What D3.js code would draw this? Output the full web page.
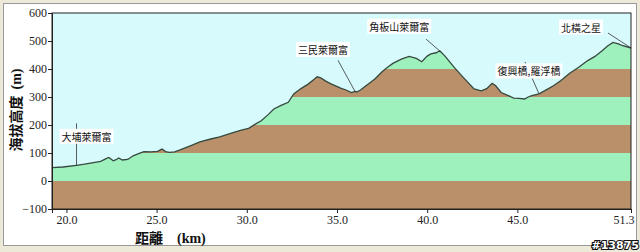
<!DOCTYPE html>
<html>
<head>
<meta charset="utf-8">
<script src="https://cdn.jsdelivr.net/npm/d3@7"></script>
<style>
    body { margin: 0; background: #ece9d8; }
    svg { display: block; }
</style>
</head>
<body>
<div id="chart"></div>
<script>
    // profile: distance (km) and elevation (m)
    var distKm = [19.2, 19.8, 20.56, 21.0, 21.5, 21.9, 22.2, 22.35, 22.6, 22.75, 22.9, 23.1, 23.4, 23.7, 24.0, 24.3,
        24.7, 25.05, 25.3, 25.5, 25.7, 26.0, 26.3, 26.9, 27.4, 28.0, 28.5, 29.1, 29.7, 30.1, 30.5, 30.8, 31.2, 31.5,
        31.9, 32.3, 32.6, 33.0, 33.4, 33.7, 33.9, 34.1, 34.4, 34.7, 35.2, 35.5, 35.8, 36.0, 36.1, 36.3, 36.7, 37.1,
        37.5, 37.8, 38.1, 38.4, 38.6, 39.0, 39.4, 39.7, 40.0, 40.2, 40.5, 40.7, 41.0, 41.5, 42.0, 42.6, 43.0, 43.3,
        43.6, 43.8, 44.1, 44.5, 44.8, 45.1, 45.4, 45.6, 45.8, 46.2, 46.7, 47.0, 47.4, 47.9, 48.4, 48.9, 49.3, 49.7,
        50.0, 50.3, 50.6, 50.8, 51.3];
    var elevM = [48, 50, 56, 60, 66, 70, 80, 84, 72, 76, 82, 75, 77, 90, 98, 105,
        104, 106, 114, 105, 102, 104, 111, 126, 140, 150, 158, 170, 182, 188, 204, 215, 238, 257,
        270, 281, 311, 330, 346, 362, 372, 368, 356, 346, 332, 325, 316, 320, 318, 325, 345, 364,
        390, 406, 420, 430, 436, 445, 438, 426, 446, 454, 458, 465, 445, 406, 370, 329, 322, 330,
        349, 340, 316, 305, 296, 295, 293, 300, 305, 311, 329, 340, 358, 385, 406, 430, 445, 465,
        482, 495, 490, 484, 475];

    // stops along the route
    var stopNames = ['大埔萊爾富', '三民萊爾富', '角板山萊爾富', '復興橋,羅浮橋', '北橫之星'];
    var stopKm = [20.56, 36.0, 40.78, 46.2, 51.3];

    var xTicks = [20, 25, 30, 35, 40, 45, 51.3];
    var yTicks = [-100, 0, 100, 200, 300, 400, 500, 600];

    // label placement (pixel offsets from the stop point)
    var labelLayout = [
        {dx: 10, dy: -28, lx: 0, ly: -42},
        {dx: -32, dy: -41, lx: -17, ly: -31},
        {dx: -42, dy: -25, lx: -15, ly: -13},
        {dx: -10, dy: -22, lx: -14, ly: -32},
        {dx: -50, dy: -20, lx: -23, ly: -15}
    ];

    var width = 640;
    var height = 252;
    var margin = {top: 13, right: 9, bottom: 43, left: 52};
    var plotW = width - margin.left - margin.right;
    var plotH = height - margin.top - margin.bottom;

    var svg = d3.select('#chart').append('svg')
        .attr('width', width)
        .attr('height', height);

    // window-like panel
    svg.append('rect')
        .attr('x', 3.5).attr('y', 3.5)
        .attr('width', 633).attr('height', 242)
        .attr('fill', '#ffffff')
        .attr('stroke', '#9a9a9a');

    var g = svg.append('g')
        .attr('transform', 'translate(' + margin.left + ',' + margin.top + ')');

    var x = d3.scaleLinear().domain([19.2, 51.3]).range([0, plotW]);
    var y = d3.scaleLinear().domain([-100, 600]).range([plotH, 0]);

    var profile = distKm.map(function (d, i) {
        return {km: d, m: elevM[i]};
    });

    g.append('rect')
        .attr('width', plotW).attr('height', plotH)
        .attr('fill', '#d7fafc');

    var area = d3.area()
        .x(function (d) { return x(d.km); })
        .y0(plotH)
        .y1(function (d) { return y(d.m); });

    g.append('clipPath').attr('id', 'ground')
        .append('path').attr('d', area(profile));

    // alternating 100 m bands under the profile
    var bands = d3.range(-100, 600, 100);
    g.append('g').attr('clip-path', 'url(#ground)')
        .selectAll('rect')
        .data(bands)
        .enter().append('rect')
        .attr('x', 0)
        .attr('width', plotW)
        .attr('y', function (d) { return y(d + 100); })
        .attr('height', function (d) { return y(d) - y(d + 100); })
        .attr('fill', function (d) {
            return (Math.round(d / 100) % 2 === 0) ? '#9ef0bd' : '#b99069';
        });

    var line = d3.line()
        .x(function (d) { return x(d.km); })
        .y(function (d) { return y(d.m); });

    g.append('path')
        .attr('d', line(profile))
        .attr('fill', 'none')
        .attr('stroke', '#35493f')
        .attr('stroke-width', 1.3);

    g.append('rect')
        .attr('width', plotW).attr('height', plotH)
        .attr('fill', 'none')
        .attr('stroke', '#222')
        .attr('stroke-width', 1);

    // stop labels
    var elevAt = d3.scaleLinear().domain(distKm).range(elevM);
    stopNames.forEach(function (name, i) {
        var px = x(stopKm[i]);
        var py = y(elevAt(stopKm[i]));
        var lay = labelLayout[i];
        g.append('line')
            .attr('x1', px + lay.lx).attr('y1', py + lay.ly)
            .attr('x2', px).attr('y2', py)
            .attr('stroke', '#333')
            .attr('stroke-width', 0.8);
        var t = g.append('text')
            .attr('x', px + lay.dx)
            .attr('y', py + lay.dy)
            .attr('text-anchor', 'middle')
            .attr('dy', '0.35em')
            .style('font-family', '"Noto Sans CJK TC", sans-serif')
            .style('font-size', '10px')
            .style('fill', '#111')
            .text(name);
        var bb = t.node().getBBox();
        g.insert('rect', function () { return t.node(); })
            .attr('x', bb.x - 2).attr('y', bb.y)
            .attr('width', bb.width + 4).attr('height', bb.height)
            .attr('fill', '#ffffff');
    });

    // axes
    var xAxis = g.append('g')
        .attr('transform', 'translate(0,' + plotH + ')')
        .call(d3.axisBottom(x).tickValues(xTicks).tickSize(4).tickFormat(d3.format('.1f')));
    var yAxis = g.append('g')
        .call(d3.axisLeft(y).tickValues(yTicks).tickSize(4).tickFormat(d3.format('d')));

    [xAxis, yAxis].forEach(function (a) {
        a.select('.domain').attr('stroke', '#222');
        a.selectAll('.tick line').attr('stroke', '#222');
        a.selectAll('.tick text')
            .style('font-family', '"Liberation Serif", serif')
            .style('font-size', '12px')
            .style('fill', '#222');
    });
    xAxis.selectAll('.tick text').attr('dy', '0.65em');
    // keep the last label inside the panel
    xAxis.selectAll('.tick text')
        .filter(function (d) { return d === xTicks[xTicks.length - 1]; })
        .attr('text-anchor', 'end')
        .attr('x', 3);
    yAxis.selectAll('.tick text').attr('x', -5);

    // axis titles
    var xt = svg.append('text')
        .attr('x', 135)
        .attr('y', 243)
        .style('fill', '#111');
    xt.append('tspan')
        .style('font-family', '"Noto Sans CJK TC", sans-serif')
        .style('font-weight', 'bold')
        .style('font-size', '14px')
        .text('距離');
    xt.append('tspan')
        .attr('dx', 14)
        .style('font-family', '"Liberation Serif", serif')
        .style('font-weight', 'bold')
        .style('font-size', '14px')
        .text('(km)');

    var yt = svg.append('text')
        .attr('transform', 'translate(21,110) rotate(-90)')
        .attr('text-anchor', 'middle')
        .style('fill', '#111');
    yt.append('tspan')
        .style('font-family', '"Noto Sans CJK TC", sans-serif')
        .style('font-weight', 'bold')
        .style('font-size', '14px')
        .text('海拔高度');
    yt.append('tspan')
        .attr('dx', 6)
        .style('font-family', '"Liberation Serif", serif')
        .style('font-weight', 'bold')
        .style('font-size', '14px')
        .text('(m)');

    // watermark
    svg.append('text')
        .attr('x', 639)
        .attr('y', 249)
        .attr('text-anchor', 'end')
        .style('font-family', '"DejaVu Sans", sans-serif')
        .style('font-weight', 'bold')
        .style('font-size', '11px')
        .style('fill', '#ffffff')
        .style('stroke', '#111')
        .style('stroke-width', 2.2)
        .style('paint-order', 'stroke')
        .text('#13875');
</script>
</body>
</html>
